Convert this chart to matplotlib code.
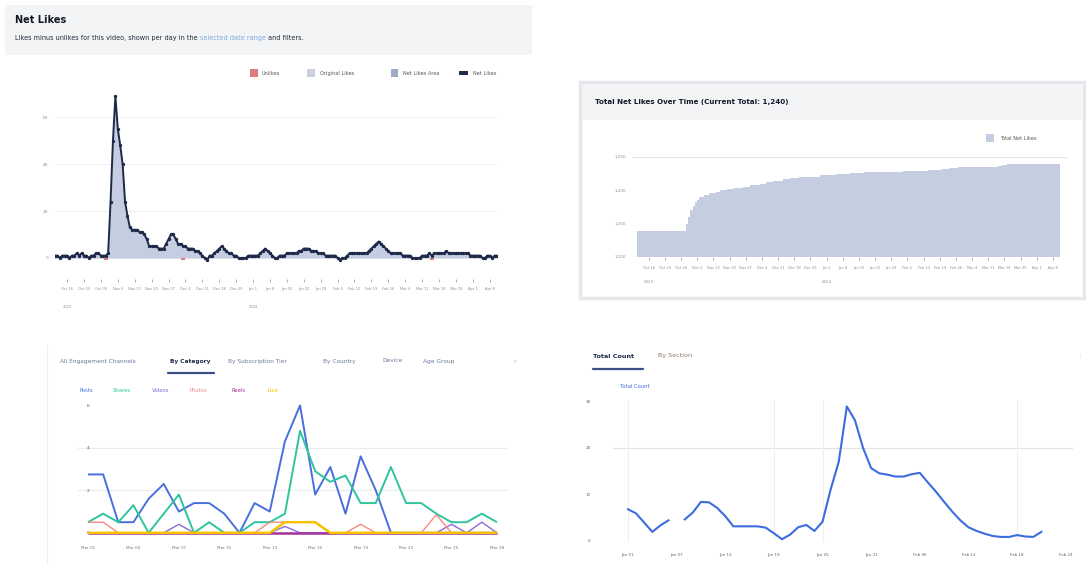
import numpy as np
import matplotlib
matplotlib.use("Agg")
import matplotlib.pyplot as plt
from matplotlib.patches import Rectangle
from matplotlib.lines import Line2D

plt.rcParams['font.family'] = ['DejaVu Sans']

# ---------------- data ----------------
# Panel 1: daily net likes (183 days starting 2023-10-11)
net_likes = [1, 1, 0, 1, 1, 1, 0, 1, 1, 2, 1, 2, 1, 1, 0, 1, 1, 2, 2, 1,
             1, 1, 2, 24, 50, 69, 55, 48, 40, 24, 18, 13, 12, 12, 12, 11, 11, 10, 8, 5,
             5, 5, 5, 4, 4, 4, 6, 8, 10, 10, 8, 6, 6, 5, 5, 4, 4, 4, 3, 3,
             2, 1, 0, -1, 1, 1, 2, 3, 4, 5, 4, 3, 2, 2, 1, 1, 0, 0, 0, 0,
             1, 1, 1, 1, 1, 2, 3, 4, 3, 2, 1, 0, 0, 1, 1, 1, 2, 2, 2, 2,
             2, 3, 3, 4, 4, 4, 3, 3, 3, 2, 2, 2, 1, 1, 1, 1, 1, 0, -1, 0,
             0, 1, 2, 2, 2, 2, 2, 2, 2, 2, 3, 4, 5, 6, 7, 6, 5, 4, 3, 2,
             2, 2, 2, 2, 1, 1, 1, 1, 0, 0, 0, 0, 1, 1, 1, 2, 1, 2, 2, 2,
             2, 2, 3, 2, 2, 2, 2, 2, 2, 2, 2, 2, 1, 1, 1, 1, 1, 0, 0, 1,
             1, 0, 1, 1]
unlike_days = [21, 53, 156]
unlike_counts = [1, 1, 1]
net_yticks = [0, 20, 40, 60]

week_tick_days = [5, 12, 19, 26, 33, 40, 47, 54, 61, 68, 75, 82, 89, 96, 103,
                  110, 117, 124, 131, 138, 145, 152, 159, 166, 173, 180]
week_tick_labels = ["Oct 16", "Oct 23", "Oct 30", "Nov 6", "Nov 13", "Nov 20", "Nov 27",
                    "Dec 4", "Dec 11", "Dec 18", "Dec 25", "Jan 1", "Jan 8", "Jan 15",
                    "Jan 22", "Jan 29", "Feb 5", "Feb 12", "Feb 19", "Feb 26", "Mar 4",
                    "Mar 11", "Mar 18", "Mar 25", "Apr 1", "Apr 8"]
year_tick_days = [5, 82]
year_labels = ["2023", "2024"]

# Panel 2: running total of net likes (step changes)
total_days = [0, 21, 22, 23, 24, 25, 26, 27, 29, 31, 34, 36, 39, 42, 46, 49, 53, 56,
              59, 63, 66, 70, 79, 86, 92, 98, 104, 115, 126, 132, 135, 139, 156, 158,
              160, 183]
total_vals = [1139, 1150, 1160, 1170, 1177, 1182, 1186, 1190, 1193, 1196, 1198, 1200,
              1202, 1203, 1205, 1208, 1210, 1212, 1214, 1217, 1218, 1220, 1223, 1224,
              1226, 1227, 1228, 1229, 1230, 1232, 1233, 1235, 1237, 1238, 1240, 1240]
total_yticks = [1100, 1150, 1200, 1250]
total_ylabels = ["1,100", "1,150", "1,200", "1,250"]

# Panel 3: engagement by category (28 days)
cat_names = ["Posts", "Shares", "Videos", "Photos", "Reels", "Live"]
cat_posts = [2.75, 2.75, 0.5, 0.5, 1.6, 2.3, 1.0, 1.4, 1.4, 0.9, 0.0, 1.4, 1.0, 4.3,
             6.0, 1.8, 3.1, 0.9, 3.6, 2.0, 0, 0, 0, 0, 0, 0, 0, 0]
cat_shares = [0.5, 0.9, 0.5, 1.3, 0.0, 0.9, 1.8, 0.0, 0.5, 0.0, 0.0, 0.5, 0.5, 0.9,
              4.8, 2.9, 2.4, 2.7, 1.4, 1.4, 3.1, 1.4, 1.4, 0.9, 0.5, 0.5, 0.9, 0.5]
cat_videos = [0, 0, 0, 0, 0, 0, 0.4, 0, 0, 0, 0, 0, 0, 0.3, 0, 0, 0, 0, 0, 0, 0, 0,
              0, 0, 0.4, 0, 0.5, 0]
cat_photos = [0.5, 0.5, 0, 0, 0, 0, 0, 0, 0, 0, 0, 0, 0.5, 0.5, 0.5, 0.5, 0, 0, 0.4,
              0, 0, 0, 0, 0.85, 0, 0, 0, 0]
cat_reels = [0] * 28
cat_live = [0, 0, 0, 0, 0, 0, 0, 0, 0, 0, 0, 0, 0, 0.5, 0.5, 0.5, 0, 0, 0, 0, 0, 0,
            0, 0, 0, 0, 0, 0]
cat_tick_idx = [0, 3, 6, 9, 12, 15, 18, 21, 24, 27]
cat_tick_labels = ["Mar 01", "Mar 04", "Mar 07", "Mar 10", "Mar 13", "Mar 16",
                   "Mar 19", "Mar 22", "Mar 25", "Mar 28"]
cat_yticks = [0, 2, 4, 6]

# Panel 4: total count
total_count = [6.7, 5.8, 3.8, 1.8, 3.2, 4.3, np.nan, 4.5, 6.0, 8.3, 8.2, 7.0, 5.2, 3.0,
               3.0, 3.0, 3.0, 2.7, 1.5, 0.2, 1.2, 2.8, 3.3, 2.0, 4.0, 11.0, 17.0, 29.0,
               26.0, 20.0, 15.6, 14.5, 14.2, 13.8, 13.8, 14.3, 14.6, 12.5, 10.5, 8.3,
               6.2, 4.3, 2.8, 2.0, 1.4, 0.9, 0.7, 0.7, 1.1, 0.8, 0.7, 1.8]
count_tick_idx = [0, 6, 12, 18, 24, 30, 36, 42, 48, 54]
count_tick_labels = ["Jan 01", "Jan 07", "Jan 13", "Jan 19", "Jan 25", "Jan 31",
                     "Feb 06", "Feb 12", "Feb 18", "Feb 24"]
count_vlines = [0, 18, 24, 48]
count_yticks = [0, 10, 20, 30]

# ---------------- figure ----------------
W, H = 1086, 565
fig = plt.figure(figsize=(W / 100, H / 100), dpi=100)
fig.patch.set_facecolor('white')


def rect(x0, y0, x1, y1):
    return [x0 / W, 1 - y1 / H, (x1 - x0) / W, (y1 - y0) / H]


def ftext(x, y, s, **kw):
    return fig.text(x / W, 1 - y / H, s, **kw)


def fbox(x0, y0, x1, y1, **kw):
    fig.add_artist(Rectangle((x0 / W, 1 - y1 / H), (x1 - x0) / W, (y1 - y0) / H,
                             transform=fig.transFigure, zorder=-5, **kw))


def fline(x0, y0, x1, y1, **kw):
    fig.add_artist(Line2D([x0 / W, x1 / W], [1 - y0 / H, 1 - y1 / H],
                          transform=fig.transFigure, **kw))


NAVY = '#1e2a4a'
FILL = '#c5cde0'
TICK = '#8a8f99'

# ======== Panel 1 ========
fbox(5, 5, 532, 55, facecolor='#f3f4f6', edgecolor='none')
ftext(15, 20, "Net Likes", fontsize=7, fontweight='bold', color='#111827', va='center')
renderer = fig.canvas.get_renderer()
parts = [("Likes minus unlikes for this video, shown per day in the ", '#1f2937'),
         ("selected date range", '#7fa8e0'),
         (" and filters.", '#1f2937')]
xcur = 15
for s, c in parts:
    t = ftext(xcur, 38, s, fontsize=4.7, color=c, va='center')
    bb = t.get_window_extent(renderer)
    xcur += bb.width

# legend
fbox(250, 69, 258, 77, facecolor='#e07b7b', edgecolor='none')
ftext(262, 73, "Unlikes", fontsize=3.6, color='#555', va='center')
fbox(307, 69, 315, 77, facecolor='#c8d0e2', edgecolor='none')
ftext(320, 73, "Original Likes", fontsize=3.6, color='#555', va='center')
fbox(391, 69, 398, 77, facecolor='#9eabc9', edgecolor='none')
ftext(403, 73, "Net Likes Area", fontsize=3.6, color='#555', va='center')
fbox(459, 71, 468, 75, facecolor=NAVY, edgecolor='none')
ftext(473, 73, "Net Likes", fontsize=3.6, color='#555', va='center')

ax1 = fig.add_axes(rect(55, 89, 497, 265))
days = np.arange(len(net_likes))
ax1.fill_between(days, 0, net_likes, color=FILL, lw=0, zorder=2)
ax1.plot(days, net_likes, color=NAVY, lw=1.4, marker='o', ms=1.4, zorder=3)
ax1.bar(unlike_days, [-u for u in unlike_counts], color='#e07b7b', width=1.5, zorder=4)
ax1.set_xlim(0, len(net_likes) - 1)
ax1.set_ylim(-3, 72)
ax1.set_yticks(net_yticks)
ax1.set_yticklabels([str(v) for v in net_yticks])
ax1.yaxis.grid(True, color='#f1f1f3', lw=0.8)
ax1.set_axisbelow(True)
for s in ax1.spines.values():
    s.set_visible(False)
ax1.spines['bottom'].set_position(('outward', 10))
ax1.set_xticks(week_tick_days)
ax1.set_xticklabels(week_tick_labels)
ax1.tick_params(axis='x', labelsize=2.6, colors=TICK, length=2.5, width=0.5, pad=3)
ax1.tick_params(axis='y', labelsize=3.2, colors=TICK, length=0, pad=5)
for d, lab in zip(year_tick_days, year_labels):
    ax1.text(d, -0.24, lab, transform=ax1.get_xaxis_transform(), fontsize=2.6,
             color=TICK, ha='center', va='center')

# ======== Panel 2 ========
fbox(580, 82, 1084, 298, facecolor='white', edgecolor='#e6e8ec', lw=2.5)
fbox(582, 84, 1082, 120, facecolor='#f3f4f6', edgecolor='none')
ftext(595, 102, "Total Net Likes Over Time (Current Total: 1,240)", fontsize=5.1,
      color='#111827', va='center', fontweight='bold')
fbox(986, 134, 994, 142, facecolor=FILL, edgecolor='none')
ftext(1000, 138, "Total Net Likes", fontsize=3.6, color='#555', va='center')

ax2 = fig.add_axes(rect(632, 157, 1068, 257))
ax2.patch.set_alpha(0)
ax2.fill_between(total_days, 1100, total_vals, step='post', color=FILL, lw=0, zorder=2)
ax2.axhline(1250, color='#e3e5ea', lw=0.8, zorder=1)
ax2.set_xlim(-2.2, 186.5)
ax2.set_ylim(1100, 1250)
ax2.set_yticks(total_yticks)
ax2.set_yticklabels(total_ylabels)
for s in ax2.spines.values():
    s.set_visible(False)
ax2.set_xticks(week_tick_days)
ax2.set_xticklabels(week_tick_labels)
ax2.tick_params(axis='x', labelsize=2.6, colors=TICK, length=2.5, width=0.5, pad=4)
ax2.tick_params(axis='y', labelsize=3.0, colors=TICK, length=0, pad=4)
for d, lab in zip(year_tick_days, year_labels):
    ax2.text(d, -0.25, lab, transform=ax2.get_xaxis_transform(), fontsize=2.8,
             color=TICK, ha='center', va='center')

# ======== Panel 3 ========
fline(47, 345, 47, 565, color='#eceef2', lw=0.8)
tabs3 = [("All Engagement Channels", 60), ("By Category", 170), ("By Subscription Tier", 228),
         ("By Country", 323), ("Device", 382), ("Age Group", 423)]
for i, (s, x) in enumerate(tabs3):
    ftext(x, 361, s, fontsize=4.2, va='center',
          color=NAVY if i == 1 else '#6b7a99', fontweight='bold' if i == 1 else 'normal')
fline(168, 373, 214, 373, color='#3b4f86', lw=1.6, solid_capstyle='round')
ftext(515, 361, "⌄", fontsize=4, color='#aaa', va='center', ha='center')

cat_colors = ['#4a6fdc', '#2ec4a0', '#8e6bd8', '#f28b82', '#a3339a', '#f6c200']
legx = [80, 113, 152, 190, 232, 267]
for name, c, x in zip(cat_names, cat_colors, legx):
    ftext(x, 390, name, fontsize=3.8, color=c, va='center')

ax3 = fig.add_axes(rect(78, 399, 508, 536))
ax3.patch.set_alpha(0)
idx3 = np.arange(len(cat_posts))
series3 = [cat_posts, cat_shares, cat_videos, cat_photos, cat_reels, cat_live]
widths = [1.4, 1.4, 1.0, 1.0, 1.8, 1.8]
for vals, c, w in zip(series3, cat_colors, widths):
    ax3.plot(idx3, vals, color=c, lw=w, solid_capstyle='butt')
ax3.set_xlim(-0.66, 27.73)
ax3.set_ylim(-0.15, 6.3)
ax3.set_yticks(cat_yticks)
ax3.set_yticklabels([str(v) for v in cat_yticks])
for yv in cat_yticks[1:3]:
    ax3.axhline(yv, color='#ececec', lw=0.8, zorder=0)
for s in ax3.spines.values():
    s.set_visible(False)
ax3.set_xticks(cat_tick_idx)
ax3.set_xticklabels(cat_tick_labels)
ax3.tick_params(axis='x', labelsize=3.0, colors='#777', length=0, pad=7)
ax3.tick_params(axis='y', labelsize=3.2, colors='#555', length=0, pad=-8)

# ======== Panel 4 ========
ftext(593, 356, "Total Count", fontsize=4.6, va='center', color=NAVY, fontweight='bold')
ftext(658, 356, "By Section", fontsize=4.6, va='center', color='#8a7a6a')
fline(593, 369, 643, 369, color='#3b4f86', lw=1.6, solid_capstyle='round')
ftext(1080, 356, "⋮", fontsize=4, color='#bbb', va='center', ha='center')
ftext(620, 387, "Total Count", fontsize=3.8, color='#3d6be0', va='center')

ax4 = fig.add_axes(rect(613, 400, 1073, 542))
ax4.patch.set_alpha(0)
idx4 = np.arange(len(total_count))
ax4.plot(idx4, total_count, color='#3d6be0', lw=1.5)
ax4.set_xlim(-1.85, 54.9)
ax4.set_ylim(-0.4, 30.4)
ax4.set_yticks(count_yticks)
ax4.set_yticklabels([str(v) for v in count_yticks])
ax4.axhline(20, color='#e3e3e3', lw=0.9, zorder=0)
for xv in count_vlines:
    ax4.axvline(xv, color='#efefef', lw=0.8, zorder=0)
for s in ax4.spines.values():
    s.set_visible(False)
ax4.set_xticks(count_tick_idx)
ax4.set_xticklabels(count_tick_labels)
ax4.tick_params(axis='x', labelsize=3.0, colors='#666', length=0, pad=8)
ax4.tick_params(axis='y', labelsize=3.0, colors='#666', length=0, pad=16)

fig.savefig("out.png", dpi=100, facecolor='white')
